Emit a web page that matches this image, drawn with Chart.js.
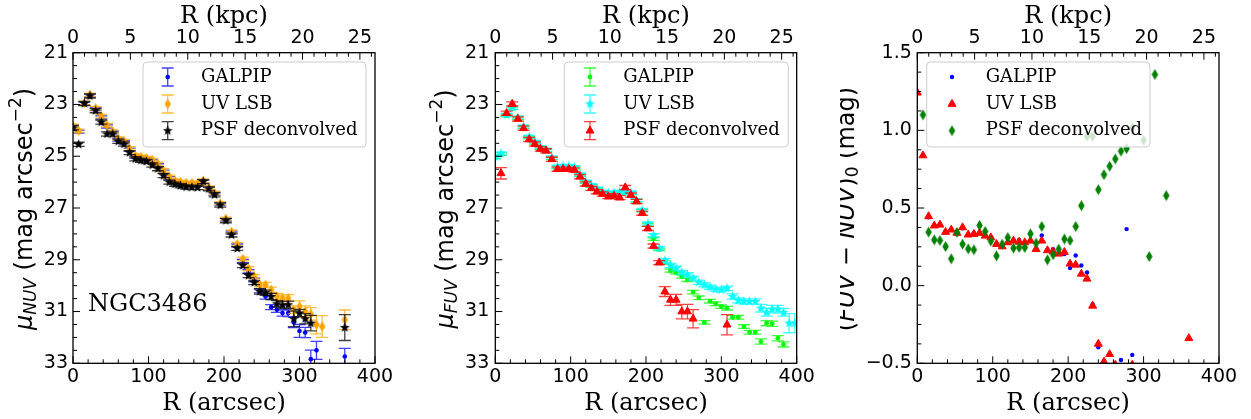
<!DOCTYPE html>
<html>
<head>
<meta charset="utf-8">
<script src="https://cdn.jsdelivr.net/npm/chart.js@4.4.0/dist/chart.umd.min.js"></script>
<style>
  body { margin: 0; background: #fff; width: 1251px; height: 419px; overflow: hidden; position: relative; }
  .panel { position: absolute; top: 0; height: 419px; }
</style>
</head>
<body>
<div class="panel" style="left:0;width:420px"><canvas id="nuv" width="420" height="419"></canvas></div>
<div class="panel" style="left:420px;width:420px"><canvas id="fuv" width="420" height="419"></canvas></div>
<div class="panel" style="left:840px;width:411px"><canvas id="col" width="411" height="419"></canvas></div>
<script>
// radii of the profile points (arcsec)
const R_ARCSEC = [0, 7.5, 15, 22.5, 30, 37.5, 45, 52.5, 60, 67.5,
  75, 82.5, 90, 97.5, 105, 112.5, 120, 127.5, 135, 142.5,
  150, 157.5, 165, 172.5, 180, 187.5, 195, 202.5, 210, 217.5,
  225, 232.5, 240, 247.5, 255, 262.5, 270, 277.5, 285, 292.5,
  300, 307.5, 315, 322.5, 330, 337.5, 345, 352.5, 360, 367.5,
  375, 382.5, 390, 397.5];

// tick labels
const ARCSEC_TICKS = [0, 100, 200, 300, 400];
const KPC_TICKS = [0, 5, 10, 15, 20, 25];
const MU_TICKS = [21, 23, 25, 27, 29, 31, 33];
const COLOR_TICKS = [-0.5, 0, 0.5, 1.0, 1.5];
const KPC_PER_ARCSEC = 25 / 380;

// --- NUV surface brightness (mag arcsec^-2)
const NUV_GALPIP = [23.85, 24.05, 22.97, 22.66, 23.18, 23.50, 23.85, 24.08, 24.36, 24.46,
  24.75, 25.02, 25.07, 25.12, 25.20, 25.35, 25.60, 25.85, 25.98, 26.05,
  26.08, 26.08, 26.10, 25.98, 26.25, 26.45, 26.85, 27.45, 27.95, 28.45,
  29.05, 29.45, 29.78, 30.20, 30.42, 30.83, 30.93, 31.06, 31.06, 31.42,
  31.75, 31.81, 32.84, 32.50, null, null, null, null, 32.74, null,
  null, null, null, null];
const NUV_GALPIP_ERR = [0.06, 0.06, 0.06, 0.06, 0.06, 0.06, 0.06, 0.06, 0.06, 0.06,
  0.06, 0.06, 0.06, 0.06, 0.06, 0.06, 0.06, 0.06, 0.06, 0.06,
  0.06, 0.06, 0.06, 0.06, 0.06, 0.06, 0.06, 0.06, 0.06, 0.06,
  0.06, 0.07, 0.07, 0.08, 0.10, 0.10, 0.10, 0.12, 0.14, 0.20,
  0.25, 0.20, 0.35, 0.35, null, null, null, null, 0.32, null,
  null, null, null, null];
const NUV_LSB = [23.83, 24.02, 22.95, 22.63, 23.15, 23.45, 23.80, 24.05, 24.32, 24.42,
  24.70, 24.98, 25.03, 25.08, 25.15, 25.30, 25.55, 25.80, 25.95, 26.00,
  26.03, 26.03, 26.05, 25.95, 26.22, 26.42, 26.82, 27.42, 27.92, 28.40,
  28.97, 29.35, 29.65, 29.97, 29.97, 30.16, 30.42, 30.48, 30.48, 30.93,
  30.81, 31.00, 31.09, 31.51, 31.58, null, null, null, 31.32, null,
  null, null, null, null];
const NUV_LSB_ERR = [0.07, 0.07, 0.07, 0.07, 0.07, 0.07, 0.07, 0.07, 0.07, 0.07,
  0.07, 0.07, 0.07, 0.07, 0.07, 0.07, 0.07, 0.07, 0.07, 0.07,
  0.07, 0.07, 0.07, 0.07, 0.07, 0.07, 0.07, 0.07, 0.07, 0.07,
  0.07, 0.08, 0.08, 0.08, 0.10, 0.10, 0.12, 0.12, 0.13, 0.15,
  0.22, 0.22, 0.24, 0.35, 0.42, null, null, null, 0.38, null,
  null, null, null, null];
const NUV_PSF = [23.90, 24.54, 22.96, 22.67, 23.24, 23.68, 24.14, 24.14, 24.42, 24.53,
  24.86, 25.10, 25.16, 25.20, 25.34, 25.48, 25.75, 26.00, 26.08, 26.14,
  26.19, 26.20, 26.21, 25.98, 26.26, 26.49, 26.89, 27.49, 28.04, 28.56,
  29.22, 29.61, 29.88, 30.23, 30.27, 30.42, 30.70, 30.75, 30.74, 31.28,
  31.06, 31.28, 31.45, null, null, null, null, null, 31.62, null,
  null, null, null, null];
const NUV_PSF_ERR = [0.08, 0.08, 0.08, 0.08, 0.08, 0.08, 0.08, 0.08, 0.08, 0.08,
  0.08, 0.08, 0.08, 0.08, 0.08, 0.08, 0.08, 0.08, 0.08, 0.08,
  0.08, 0.08, 0.08, 0.08, 0.08, 0.08, 0.08, 0.08, 0.08, 0.08,
  0.08, 0.08, 0.08, 0.10, 0.10, 0.12, 0.12, 0.14, 0.14, 0.30,
  0.14, 0.20, 0.30, null, null, null, null, null, 0.50, null,
  null, null, null, null];

// --- FUV surface brightness (mag arcsec^-2)
const FUV_GALPIP = [25.05, 24.92, 23.43, 23.15, 23.53, 23.88, 24.28, 24.48, 24.68, 24.78,
  25.08, 25.43, 25.42, 25.42, 25.45, 25.73, 26.00, 26.15, 26.28, 26.40,
  26.45, 26.43, 26.42, 26.40, 26.43, 26.72, 27.10, 27.65, 28.20, 28.60,
  29.10, 29.42, 29.49, 29.65, 29.78, 30.25, 30.47, 31.42, 30.60, 30.70,
  30.81, 30.87, 31.22, 31.22, 31.58, 31.80, 31.80, 32.16, 31.45, 31.47,
  32.03, 32.27, null, null];
const FUV_GALPIP_ERR = [0.05, 0.05, 0.05, 0.05, 0.05, 0.05, 0.05, 0.05, 0.05, 0.05,
  0.05, 0.05, 0.05, 0.05, 0.05, 0.05, 0.05, 0.05, 0.05, 0.05,
  0.05, 0.05, 0.05, 0.05, 0.05, 0.05, 0.05, 0.05, 0.05, 0.05,
  0.06, 0.06, 0.06, 0.06, 0.06, 0.07, 0.07, 0.07, 0.07, 0.07,
  0.07, 0.07, 0.07, 0.07, 0.07, 0.07, 0.07, 0.10, 0.10, 0.10,
  0.10, 0.10, null, null];
const FUV_LSB = [25.02, 24.89, 23.40, 23.12, 23.50, 23.85, 24.25, 24.45, 24.65, 24.75,
  25.05, 25.40, 25.38, 25.38, 25.42, 25.70, 25.98, 26.12, 26.25, 26.38,
  26.42, 26.40, 26.38, 26.38, 26.40, 26.70, 27.08, 27.60, 28.05, 28.55,
  29.03, 29.22, 29.33, 29.49, 29.58, 29.71, 29.87, 29.97, 30.06, 30.14,
  30.16, 30.10, 30.42, 30.57, 30.61, 30.61, 30.61, 30.87, 31.03, 30.91,
  30.91, 31.03, 31.45, 31.45];
const FUV_LSB_ERR = [0.06, 0.06, 0.06, 0.06, 0.06, 0.06, 0.06, 0.06, 0.06, 0.06,
  0.06, 0.06, 0.06, 0.06, 0.06, 0.06, 0.06, 0.06, 0.06, 0.06,
  0.06, 0.06, 0.06, 0.06, 0.06, 0.06, 0.06, 0.06, 0.06, 0.06,
  0.08, 0.08, 0.08, 0.08, 0.08, 0.08, 0.08, 0.08, 0.08, 0.08,
  0.08, 0.08, 0.10, 0.10, 0.10, 0.10, 0.10, 0.15, 0.15, 0.15,
  0.15, 0.15, 0.37, 0.37];
const FUV_PSF = [null, 25.66, 23.34, 22.98, 23.56, 23.92, 24.35, 24.53, 24.72, 24.79,
  25.12, 25.50, 25.50, 25.50, 25.53, 25.79, 26.07, 26.24, 26.37, 26.46,
  26.56, 26.53, 26.60, 26.21, 26.50, 26.75, 27.20, 27.79, 28.47, 29.11,
  30.23, 30.55, 30.55, 31.00, 31.00, 31.28, null, null, null, null,
  null, 31.51, null, null, null, null, null, null, null, null,
  null, null, null, null];
const FUV_PSF_ERR = [null, 0.22, 0.08, 0.08, 0.08, 0.08, 0.08, 0.08, 0.08, 0.08,
  0.08, 0.08, 0.08, 0.08, 0.08, 0.08, 0.08, 0.08, 0.08, 0.08,
  0.08, 0.08, 0.08, 0.08, 0.08, 0.08, 0.08, 0.08, 0.08, 0.08,
  0.19, 0.21, 0.21, 0.28, 0.28, 0.35, null, null, null, null,
  null, 0.39, null, null, null, null, null, null, null, null,
  null, null, null, null];

// --- (FUV - NUV)_0 colour (mag)
const COL_GALPIP = [null, 0.84, 0.44, 0.39, 0.39, 0.35, 0.36, 0.34, 0.37, 0.33,
  0.34, 0.34, 0.32, 0.31, 0.27, 0.25, 0.28, 0.29, 0.295, 0.28,
  0.29, 0.24, 0.323, 0.23, 0.235, 0.21, 0.203, 0.113, 0.194, 0.13,
  0.085, -0.12, -0.397, null, null, null, -0.479, 0.364, -0.446, null,
  null, null, null, null, null, null, null, null, null, null,
  null, null, null, null];
const COL_LSB = [1.242, 0.838, 0.446, 0.386, 0.392, 0.345, 0.360, 0.339, 0.375, 0.328,
  0.332, 0.339, 0.321, 0.310, 0.267, 0.252, 0.278, 0.289, 0.282, 0.278,
  0.289, 0.235, 0.289, 0.227, 0.220, 0.205, 0.216, 0.141, 0.134, 0.076,
  0.044, -0.130, -0.375, -0.490, -0.442, -0.510, null, null, -0.510, null,
  null, null, null, null, null, null, null, null, -0.339, null,
  null, null, null, null];
const COL_PSF = [null, 1.100, 0.345, 0.295, 0.291, 0.252, 0.173, 0.343, 0.267, 0.237,
  0.231, 0.388, 0.349, 0.287, 0.192, 0.267, 0.310, 0.242, 0.246, 0.246,
  0.334, 0.274, 0.381, 0.166, 0.199, 0.235, 0.300, 0.291, 0.381, 0.515,
  0.962, 0.962, 0.618, 0.715, 0.769, 0.816, 0.866, 0.883, 1.016, null,
  0.937, 0.188, 1.360, null, 0.580, null, null, null, null, null,
  null, null, null, null];

const SANS = "'DejaVu Sans', sans-serif";
const SERIF = "'DejaVu Serif', serif";
const CAP = 6;

function pts(vals, errs) {
  const out = [];
  vals.forEach((v, i) => {
    if (v !== null) out.push({ x: R_ARCSEC[i], y: v, e: errs ? errs[i] : null });
  });
  return out;
}

function starImage(r, color) {
  const c = document.createElement('canvas');
  const s = Math.ceil(2 * r + 2);
  c.width = c.height = s;
  const g = c.getContext('2d');
  g.translate(s / 2, s / 2);
  g.beginPath();
  for (let k = 0; k < 10; k++) {
    const rad = k % 2 ? r * 0.42 : r;
    const a = -Math.PI / 2 + k * Math.PI / 5;
    g.lineTo(rad * Math.cos(a), rad * Math.sin(a));
  }
  g.closePath();
  g.fillStyle = color;
  g.fill();
  return c;
}

function diamondImage(w, h, color) {
  const c = document.createElement('canvas');
  c.width = Math.ceil(w + 2); c.height = Math.ceil(h + 2);
  const g = c.getContext('2d');
  g.translate(c.width / 2, c.height / 2);
  g.beginPath();
  g.moveTo(0, -h / 2); g.lineTo(w / 2, 0); g.lineTo(0, h / 2); g.lineTo(-w / 2, 0);
  g.closePath();
  g.fillStyle = color;
  g.fill();
  return c;
}

function series(label, data, color, style, radius, errColor) {
  return {
    label, data,
    pointStyle: style,
    pointRadius: radius,
    pointBackgroundColor: color,
    pointBorderColor: color,
    pointBorderWidth: style === 'triangle' ? 1 : 0,
    errColor: errColor || null,
    showLine: false,
    clip: 0
  };
}

function drawMarker(ctx, ds, x, y) {
  const st = ds.pointStyle;
  ctx.fillStyle = ds.pointBackgroundColor;
  ctx.strokeStyle = ds.pointBorderColor;
  if (st instanceof HTMLCanvasElement) {
    ctx.drawImage(st, x - st.width / 2, y - st.height / 2);
  } else if (st === 'triangle') {
    const r = ds.pointRadius;
    ctx.beginPath();
    ctx.moveTo(x, y - r);
    ctx.lineTo(x + r * 0.866, y + r * 0.5);
    ctx.lineTo(x - r * 0.866, y + r * 0.5);
    ctx.closePath();
    ctx.fill();
    ctx.lineWidth = 1;
    ctx.stroke();
  } else {
    ctx.beginPath();
    ctx.arc(x, y, ds.pointRadius, 0, Math.PI * 2);
    ctx.fill();
  }
}

function errBar(ctx, x, y1, y2) {
  ctx.moveTo(x, y1); ctx.lineTo(x, y2);
  ctx.moveTo(x - CAP, y1); ctx.lineTo(x + CAP, y1);
  ctx.moveTo(x - CAP, y2); ctx.lineTo(x + CAP, y2);
}

function drawRich(ctx, parts, cx, cy) {
  ctx.save();
  ctx.translate(cx, cy);
  ctx.rotate(-Math.PI / 2);
  ctx.textBaseline = 'middle';
  ctx.textAlign = 'left';
  ctx.fillStyle = '#000';
  let total = 0;
  parts.forEach(p => { ctx.font = p.font; p.w = ctx.measureText(p.t).width; total += p.w; });
  let x = -total / 2;
  parts.forEach(p => { ctx.font = p.font; ctx.fillText(p.t, x, p.dy || 0); x += p.w; });
  ctx.restore();
}

function makePanel(id, opt) {
  const decor = {
    id: 'decor_' + id,
    beforeDatasetDraw(chart, args) {
      const ds = chart.data.datasets[args.index];
      if (!ds.errColor) return;
      const ctx = chart.ctx, a = chart.chartArea, ys = chart.scales.y;
      ctx.save();
      ctx.beginPath();
      ctx.rect(a.left, a.top, a.right - a.left, a.bottom - a.top);
      ctx.clip();
      ctx.strokeStyle = ds.errColor;
      ctx.lineWidth = 1.3;
      ctx.beginPath();
      args.meta.data.forEach((el, j) => {
        const d = ds.data[j];
        if (d.e == null) return;
        errBar(ctx, el.x, ys.getPixelForValue(d.y - d.e), ys.getPixelForValue(d.y + d.e));
      });
      ctx.stroke();
      ctx.restore();
    },
    afterDatasetsDraw(chart) {
      const ctx = chart.ctx, a = chart.chartArea, sc = chart.scales;
      const near = (v, list) => list.some(t => Math.abs(t - v) < 1e-6);
      ctx.save();
      ctx.strokeStyle = '#000';
      ctx.lineWidth = 1;
      ctx.beginPath();
      for (let v = 0; v <= 400; v += 20) {
        const x = sc.x.getPixelForValue(v), len = near(v, ARCSEC_TICKS) ? 7 : 4;
        ctx.moveTo(x, a.bottom); ctx.lineTo(x, a.bottom - len);
      }
      for (let v = 0; v <= 400 * KPC_PER_ARCSEC; v += 1) {
        const x = sc.x2.getPixelForValue(v), len = near(v, KPC_TICKS) ? 7 : 4;
        ctx.moveTo(x, a.top); ctx.lineTo(x, a.top + len);
      }
      for (let k = 0; ; k++) {
        const v = opt.yMin + k * opt.yMinor;
        if (v > opt.yMax + 1e-9) break;
        const y = sc.y.getPixelForValue(v), len = near(v, opt.yTicks) ? 7 : 4;
        ctx.moveTo(a.left, y); ctx.lineTo(a.left + len, y);
      }
      ctx.stroke();
      ctx.lineWidth = 1.3;
      ctx.strokeRect(a.left, a.top, a.right - a.left, a.bottom - a.top);

      if (opt.note) {
        ctx.fillStyle = '#000';
        ctx.font = '24px ' + SERIF;
        ctx.textBaseline = 'alphabetic';
        ctx.textAlign = 'left';
        ctx.fillText(opt.note.text, opt.note.x, opt.note.y);
      }

      // legend box
      const L = opt.legend;
      ctx.beginPath();
      ctx.roundRect(L.x, L.y, L.w, L.h, 4);
      ctx.fillStyle = 'rgba(255,255,255,0.8)';
      ctx.fill();
      ctx.strokeStyle = '#cccccc';
      ctx.lineWidth = 1;
      ctx.stroke();
      chart.data.datasets.forEach((ds, i) => {
        const y = L.rows[i];
        if (ds.errColor) {
          ctx.strokeStyle = ds.errColor;
          ctx.lineWidth = 1.3;
          ctx.beginPath();
          errBar(ctx, L.markX, y - 9, y + 9);
          ctx.stroke();
        }
        drawMarker(ctx, ds, L.markX, y);
        ctx.fillStyle = '#000';
        ctx.font = '18px ' + SERIF;
        ctx.textBaseline = 'middle';
        ctx.textAlign = 'left';
        ctx.fillText(ds.label, L.textX, y);
      });
      ctx.restore();
    },
    afterDraw(chart) {
      drawRich(chart.ctx, opt.yTitle, opt.yTitleX, 209);
    }
  };

  const tickFont = { family: SANS, size: 19 };
  const titleFont = { family: SERIF, size: 24 };
  new Chart(document.getElementById(id), {
    type: 'scatter',
    data: { datasets: opt.datasets },
    options: {
      responsive: false,
      animation: false,
      events: [],
      layout: { padding: { left: 0, right: opt.padRight, top: 0, bottom: 0 } },
      plugins: { legend: { display: false }, tooltip: { enabled: false } },
      scales: {
        x: {
          type: 'linear', position: 'bottom', min: 0, max: 400,
          afterBuildTicks: s => { s.ticks = ARCSEC_TICKS.map(v => ({ value: v })); },
          afterFit: s => { s.height = 419 - 363.3; },
          grid: { display: false, drawTicks: false },
          border: { display: false },
          ticks: { font: tickFont, color: '#000', padding: 2, maxRotation: 0 },
          title: { display: true, text: 'R (arcsec)', font: titleFont, color: '#000', padding: { top: 0, bottom: 1 } }
        },
        x2: {
          type: 'linear', position: 'top', min: 0, max: 400 * KPC_PER_ARCSEC,
          afterBuildTicks: s => { s.ticks = KPC_TICKS.map(v => ({ value: v })); },
          afterFit: s => { s.height = 52.7; },
          grid: { display: false, drawTicks: false },
          border: { display: false },
          ticks: { font: tickFont, color: '#000', padding: 3, maxRotation: 0 },
          title: { display: true, text: 'R (kpc)', font: titleFont, color: '#000', padding: { top: 2, bottom: 0 } }
        },
        y: {
          type: 'linear', position: 'left', min: opt.yMin, max: opt.yMax, reverse: opt.reverse,
          afterBuildTicks: s => { s.ticks = opt.yTicks.map(v => ({ value: v })); },
          afterFit: s => { s.width = opt.leftW; },
          grid: { display: false, drawTicks: false },
          border: { display: false },
          ticks: { font: tickFont, color: '#000', padding: opt.tickPad, callback: opt.yFmt }
        }
      }
    },
    plugins: [decor]
  });
}

const STAR_K = starImage(5.2, '#000000');
const STAR_C = starImage(5.2, '#00ffff');
const DIAM_O = diamondImage(6.5, 10.5, '#ffa500');
const DIAM_G = diamondImage(6.5, 11, '#008000');

const muParts = band => [
  { t: 'μ', font: 'italic 24px ' + SANS },
  { t: band, font: 'italic 17px ' + SANS, dy: 6 },
  { t: ' (mag arcsec', font: '24px ' + SANS },
  { t: '−2', font: '17px ' + SANS, dy: -9 },
  { t: ')', font: '24px ' + SANS }
];

makePanel('nuv', {
  datasets: [
    series('GALPIP', pts(NUV_GALPIP, NUV_GALPIP_ERR), '#0000ff', 'circle', 2.3, 'rgba(0,0,255,0.75)'),
    series('UV LSB', pts(NUV_LSB, NUV_LSB_ERR), '#ffa500', DIAM_O, 4, 'rgba(255,165,0,0.75)'),
    series('PSF deconvolved', pts(NUV_PSF, NUV_PSF_ERR), '#000000', STAR_K, 4, 'rgba(0,0,0,0.75)')
  ].map((d, i) => Object.assign(d, { order: 3 - i })),
  yMin: 21, yMax: 33, reverse: true, yTicks: MU_TICKS, yMinor: 0.5,
  leftW: 73, padRight: 45, tickPad: 5,
  yFmt: v => String(v),
  yTitle: muParts('NUV'), yTitleX: 26,
  note: { text: 'NGC3486', x: 88, y: 311 },
  legend: { x: 143, y: 62, w: 223, h: 85, markX: 167.7, textX: 201, rows: [77, 104, 130.7] }
});

makePanel('fuv', {
  datasets: [
    series('GALPIP', pts(FUV_GALPIP, FUV_GALPIP_ERR), '#00ff00', 'circle', 2.4, 'rgba(0,255,0,0.75)'),
    series('UV LSB', pts(FUV_LSB, FUV_LSB_ERR), '#00ffff', STAR_C, 4, 'rgba(0,255,255,0.75)'),
    series('PSF deconvolved', pts(FUV_PSF, FUV_PSF_ERR), '#ff0000', 'triangle', 4.6, 'rgba(255,0,0,0.75)')
  ].map((d, i) => Object.assign(d, { order: 3 - i })),
  yMin: 21, yMax: 33, reverse: true, yTicks: MU_TICKS, yMinor: 0.5,
  leftW: 75.3, padRight: 43.3, tickPad: 6,
  yFmt: v => String(v),
  yTitle: muParts('FUV'), yTitleX: 27,
  legend: { x: 144.3, y: 62, w: 224, h: 85, markX: 170, textX: 203.3, rows: [77, 104, 130.7] }
});

makePanel('col', {
  datasets: [
    series('GALPIP', pts(COL_GALPIP, null), '#0000ff', 'circle', 2.2, null),
    series('UV LSB', pts(COL_LSB, null), '#ff0000', 'triangle', 4.6, null),
    series('PSF deconvolved', pts(COL_PSF, null), '#008000', DIAM_G, 4, null)
  ].map((d, i) => Object.assign(d, { order: 3 - i })),
  yMin: -0.5, yMax: 1.5, reverse: false, yTicks: COLOR_TICKS, yMinor: 0.125,
  leftW: 77.3, padRight: 32, tickPad: 5.5,
  yFmt: v => v.toFixed(1).replace('-', '−'),
  yTitle: [
    { t: '(', font: '24px ' + SANS },
    { t: 'FUV', font: 'italic 24px ' + SANS },
    { t: ' − ', font: '24px ' + SANS },
    { t: 'NUV', font: 'italic 24px ' + SANS },
    { t: ')', font: '24px ' + SANS },
    { t: '0', font: '17px ' + SANS, dy: 6 },
    { t: ' (mag)', font: '24px ' + SANS }
  ],
  yTitleX: 8,
  legend: { x: 86.7, y: 62, w: 223.3, h: 85, markX: 112, textX: 145.7, rows: [77, 104, 130.7] }
});
</script>
</body>
</html>
